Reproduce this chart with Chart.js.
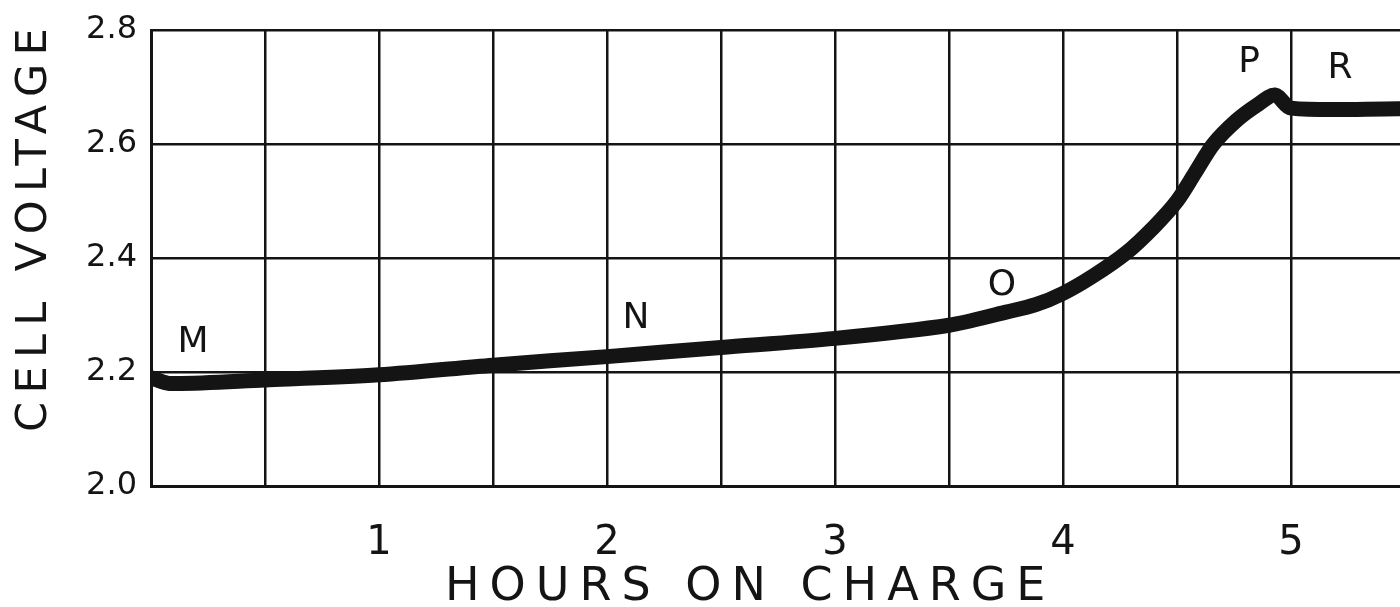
<!DOCTYPE html>
<html>
<head>
<meta charset="utf-8">
<script src="https://cdn.jsdelivr.net/npm/chart.js@4/dist/chart.umd.min.js"></script>
<style>
  html, body { margin: 0; padding: 0; background: #fff; overflow: hidden; }
  #wrap { width: 1400px; height: 607px; position: relative; }
</style>
</head>
<body>
<div id="wrap"><canvas id="grafico"></canvas></div>
<script>
// curva de carga: horas x tensao da celula
const horas = [0.00, 0.08, 0.50, 1.00, 1.50, 2.00, 2.50, 3.00, 3.50, 3.75, 3.88, 4.00, 4.13, 4.28, 4.40, 4.50, 4.58, 4.66, 4.76, 4.85, 4.93, 5.00, 5.48];
const tensao = [2.190, 2.180, 2.186, 2.195, 2.212, 2.227, 2.243, 2.259, 2.282, 2.305, 2.318, 2.338, 2.368, 2.410, 2.455, 2.500, 2.550, 2.600, 2.641, 2.668, 2.686, 2.663, 2.662];

const yTicks = [2.0, 2.2, 2.4, 2.6, 2.8];
const xTicks = [1, 2, 3, 4, 5];

// letras sobre a curva
const letras = ['M', 'N', 'O', 'P', 'R'];
const letrasHoras = [0.184, 2.127, 3.732, 4.816, 5.215];
const letrasTensao = [2.252, 2.294, 2.352, 2.742, 2.732];

const tituloX = 'HOURS ON CHARGE';
const tituloY = 'CELL VOLTAGE';

const fonte = '"DejaVu Sans", sans-serif';
const tinta = '#141414';

const pluginTextos = {
    id: 'textos',
    afterDraw(chart) {
        const c = chart.ctx;
        const sx = chart.scales.x, sy = chart.scales.y;
        c.save();
        c.fillStyle = tinta;
        c.textBaseline = 'middle';

        // letras M N O P R
        c.font = '36px ' + fonte;
        c.textAlign = 'center';
        letras.forEach((l, i) => {
            c.fillText(l, sx.getPixelForValue(letrasHoras[i]), sy.getPixelForValue(letrasTensao[i]));
        });

        // titulo do eixo x
        c.font = '46px ' + fonte;
        c.letterSpacing = '10px';
        c.textAlign = 'left';
        c.fillText(tituloX, 445, 588);

        // titulo do eixo y (vertical)
        c.font = '43px ' + fonte;
        c.letterSpacing = '8.4px';
        c.translate(35, 432);
        c.rotate(-Math.PI / 2);
        c.fillText(tituloY, 0, 0);
        c.restore();
    }
};

new Chart(document.getElementById('grafico').getContext('2d'), {
    type: 'line',
    data: {
        datasets: [{
            label: 'Cell voltage',
            data: horas.map((h, i) => ({ x: h, y: tensao[i] })),
            borderColor: tinta,
            borderWidth: 15,
            borderCapStyle: 'butt',
            borderJoinStyle: 'round',
            pointRadius: 0,
            tension: 0.3,
            fill: false
        }]
    },
    options: {
        responsive: true,
        maintainAspectRatio: false,
        animation: false,
        layout: { padding: { top: 29, right: 0, left: 0, bottom: 0 } },
        plugins: {
            legend: { display: false },
            tooltip: { enabled: false }
        },
        scales: {
            x: {
                type: 'linear',
                min: 0,
                max: 5.478,
                afterFit: (s) => { s.height = 121; },
                grid: { color: tinta, lineWidth: 2.5, drawTicks: false },
                border: { color: tinta, width: 3 },
                ticks: {
                    stepSize: 0.5,
                    includeBounds: false,
                    maxRotation: 0,
                    autoSkip: false,
                    padding: 34,
                    color: tinta,
                    font: { family: fonte, size: 40 },
                    callback: (v) => xTicks.includes(v) ? String(v) : ''
                }
            },
            y: {
                min: 2.0,
                max: 2.8,
                afterFit: (s) => { s.width = 151; },
                grid: { color: tinta, lineWidth: 2.5, drawTicks: false },
                border: { color: tinta, width: 3 },
                ticks: {
                    stepSize: 0.2,
                    padding: 14,
                    color: tinta,
                    font: { family: fonte, size: 32, lineHeight: 1 },
                    callback: (v) => yTicks.some(t => Math.abs(t - v) < 1e-6) ? v.toFixed(1) : ''
                }
            }
        }
    },
    plugins: [pluginTextos]
});
</script>
</body>
</html>
